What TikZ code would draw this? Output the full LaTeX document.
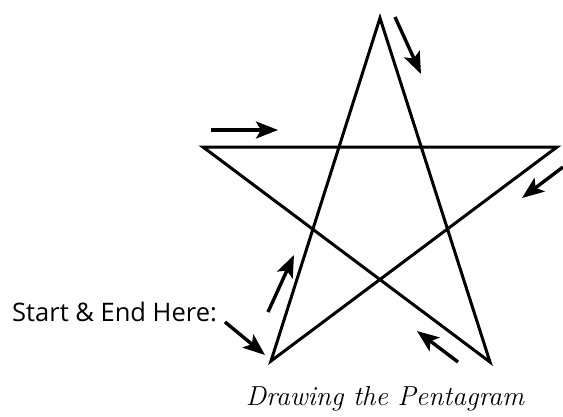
\documentclass[tikz,border=0pt]{standalone}
\usepackage{fontspec}
\newfontfamily\notefont{Open Sans}
\usetikzlibrary{arrows.meta, positioning}

\begin{document}
\begin{tikzpicture}[
      x=1pt, y=-1pt,
      star/.style={line width=3pt, line join=miter},
      arrow/.style={-{Stealth[length=22pt, width=17pt, inset=5pt]}, line width=3.4pt},
      note/.style={font=\notefont\fontsize{25.5}{30}\selectfont, anchor=base west, inner sep=0pt},
      caption/.style={font=\itshape\fontsize{27.5}{32}\selectfont, anchor=base, inner sep=0pt}
    ]
    \useasboundingbox (0,0) rectangle (563,416);

    % star points
    \coordinate (top) at (380,18);
    \coordinate (left) at (203,147);
    \coordinate (right) at (557,147);
    \coordinate (bl) at (271,361);
    \coordinate (br) at (490,362);

    \draw[star] (bl) -- (top) -- (br) -- (left) -- (right) -- cycle;

    % direction arrows
    \coordinate (a1) at (268,312); \coordinate (b1) at (294,255);
    \coordinate (a2) at (395,17);  \coordinate (b2) at (421,74);
    \coordinate (a3) at (458,362); \coordinate (b3) at (417,331);
    \coordinate (a4) at (211,130); \coordinate (b4) at (278,130);
    \coordinate (a5) at (563,167); \coordinate (b5) at (522,198);

    \draw[arrow] (a1) -- (b1);
    \draw[arrow] (a2) -- (b2);
    \draw[arrow] (a3) -- (b3);
    \draw[arrow] (a4) -- (b4);
    \draw[arrow] (a5) -- (b5);

    \node[note] (start) at (12,321) {Start \& End Here:};
    \coordinate (s1) at (225,322); \coordinate (s2) at (265,355);
    \draw[arrow] (s1) -- (s2);

    \node[caption] (title) at (385,405) {Drawing the Pentagram};
  \end{tikzpicture}
\end{document}
